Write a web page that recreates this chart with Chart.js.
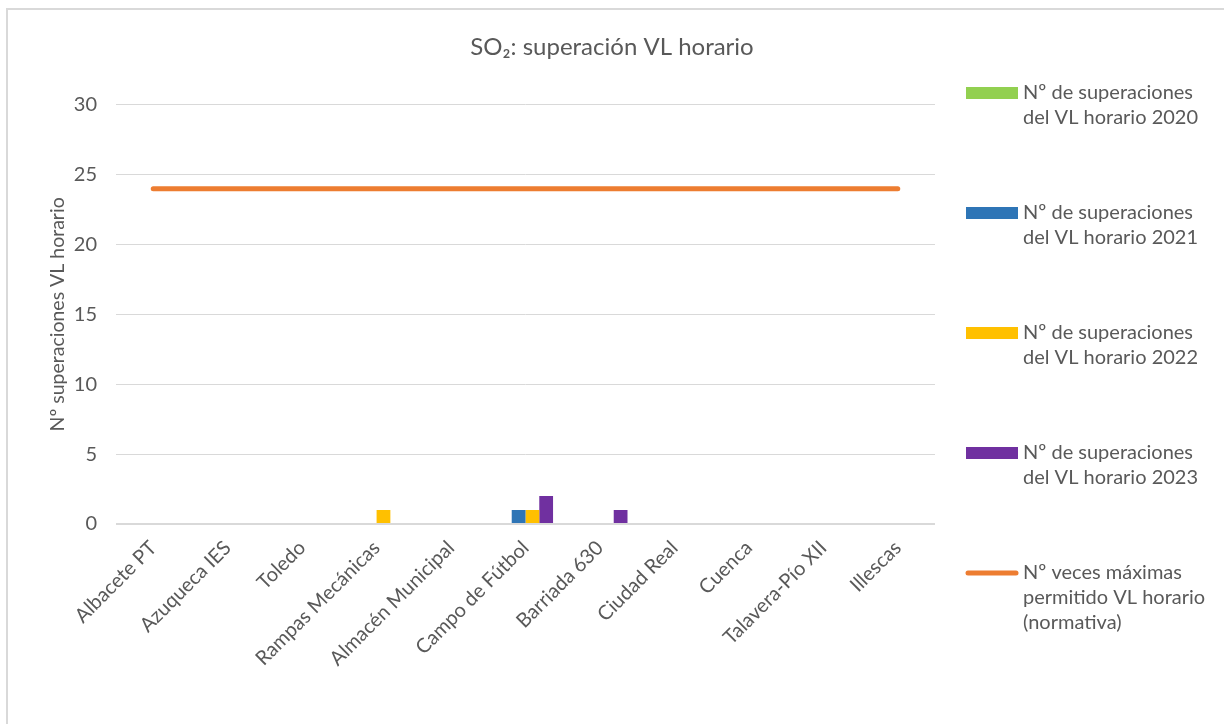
<!DOCTYPE html>
<html>
<head>
<meta charset="utf-8">
<script src="https://cdn.jsdelivr.net/npm/chart.js@4"></script>
<style>
  html, body { margin: 0; padding: 0; background: #fff; }
  #wrap { width: 1224px; height: 724px; position: relative; }
</style>
</head>
<body>
<div id="wrap"><canvas id="so2Chart"></canvas></div>
<script>
// --- DATA ---
const stations = ['Albacete PT', 'Azuqueca IES', 'Toledo', 'Rampas Mecánicas', 'Almacén Municipal',
  'Campo de Fútbol', 'Barriada 630', 'Ciudad Real', 'Cuenca', 'Talavera-Pío XII', 'Illescas'];
const exceed2020 = [0, 0, 0, 0, 0, 0, 0, 0, 0, 0, 0];
const exceed2021 = [0, 0, 0, 0, 0, 1, 0, 0, 0, 0, 0];
const exceed2022 = [0, 0, 0, 1, 0, 1, 0, 0, 0, 0, 0];
const exceed2023 = [0, 0, 0, 0, 0, 2, 1, 0, 0, 0, 0];
const maxAllowed = [24, 24, 24, 24, 24, 24, 24, 24, 24, 24, 24];
const yTicks = [0, 5, 10, 15, 20, 25, 30];

const legendText = [
  ['Nº de superaciones', 'del VL horario 2020'],
  ['Nº de superaciones', 'del VL horario 2021'],
  ['Nº de superaciones', 'del VL horario 2022'],
  ['Nº de superaciones', 'del VL horario 2023'],
  ['Nº veces máximas', 'permitido VL horario', '(normativa)']
];

const FONT = 'Lato';
const TXT = '#595959';

// border of the chart box + legend on the right, drawn on canvas
const sideLegend = {
  id: 'sideLegend',
  beforeDraw(chart) {
    const ctx = chart.ctx;
    ctx.save();
    ctx.strokeStyle = '#d9d9d9';
    ctx.lineWidth = 2;
    ctx.strokeRect(7, 9, 1240, 740);
    ctx.restore();
  },
  afterDraw(chart) {
    const ctx = chart.ctx;
    const x0 = chart.chartArea.right + 31;
    ctx.save();
    ctx.font = '20px ' + FONT;
    ctx.textBaseline = 'middle';
    chart.data.datasets.forEach((ds, i) => {
      const y = 93 + i * 120;
      if (ds.type === 'line') {
        ctx.strokeStyle = ds.borderColor;
        ctx.lineWidth = 5;
        ctx.lineCap = 'round';
        ctx.beginPath();
        ctx.moveTo(x0 + 2, y);
        ctx.lineTo(x0 + 50, y);
        ctx.stroke();
      } else {
        ctx.fillStyle = ds.backgroundColor;
        ctx.fillRect(x0, y - 6, 52, 12);
      }
      ctx.fillStyle = TXT;
      legendText[i].forEach((t, j) => ctx.fillText(t, x0 + 57, y + j * 25));
    });
    ctx.restore();
  }
};

function initChart() {
  const barCommon = { categoryPercentage: 0.74, barPercentage: 1, borderWidth: 0, order: 1 };

  new Chart(document.getElementById('so2Chart'), {
    type: 'bar',
    data: {
      labels: stations,
      datasets: [
        { ...barCommon, label: 'Nº de superaciones del VL horario 2020', data: exceed2020, backgroundColor: '#92D050' },
        { ...barCommon, label: 'Nº de superaciones del VL horario 2021', data: exceed2021, backgroundColor: '#2E75B6' },
        { ...barCommon, label: 'Nº de superaciones del VL horario 2022', data: exceed2022, backgroundColor: '#FFC000' },
        { ...barCommon, label: 'Nº de superaciones del VL horario 2023', data: exceed2023, backgroundColor: '#7030A0' },
        { type: 'line', label: 'Nº veces máximas permitido VL horario (normativa)', data: maxAllowed,
          borderColor: '#ED7D31', borderWidth: 5, borderCapStyle: 'round', pointRadius: 0, order: 0 }
      ]
    },
    options: {
      responsive: true,
      maintainAspectRatio: false,
      animation: false,
      layout: { padding: 0 },
      plugins: {
        legend: { display: false },
        tooltip: { enabled: false },
        title: {
          display: true,
          text: 'SO₂: superación VL horario',
          color: TXT,
          font: { family: FONT, size: 24, weight: 'normal' },
          padding: { top: 33, bottom: 43 }
        }
      },
      scales: {
        x: {
          grid: { display: false },
          border: { display: false },
          ticks: { color: TXT, font: { family: FONT, size: 20 }, minRotation: 45, maxRotation: 45, padding: 4, autoSkip: false },
          afterFit: s => { s.height = 200; }
        },
        y: {
          min: 0, max: 30,
          afterBuildTicks: s => { s.ticks = yTicks.map(v => ({ value: v })); },
          grid: { color: '#d9d9d9', lineWidth: c => c.tick.value === 0 ? 2 : 1, drawTicks: false },
          border: { display: false },
          ticks: { color: TXT, font: { family: FONT, size: 20 }, padding: 19 },
          title: { display: true, text: 'Nº superaciones VL horario', color: TXT,
                   font: { family: FONT, size: 19.5 }, padding: { top: 46, bottom: 0 } },
          afterFit: s => { s.width = 116; }
        },
        // empty right-hand axis that only reserves room for the legend
        legendSpace: {
          position: 'right',
          grid: { display: false },
          border: { display: false },
          ticks: { display: false },
          afterFit: s => { s.width = 289; }
        }
      }
    },
    plugins: [sideLegend]
  });
}

window.onload = initChart;
</script>
</body>
</html>
